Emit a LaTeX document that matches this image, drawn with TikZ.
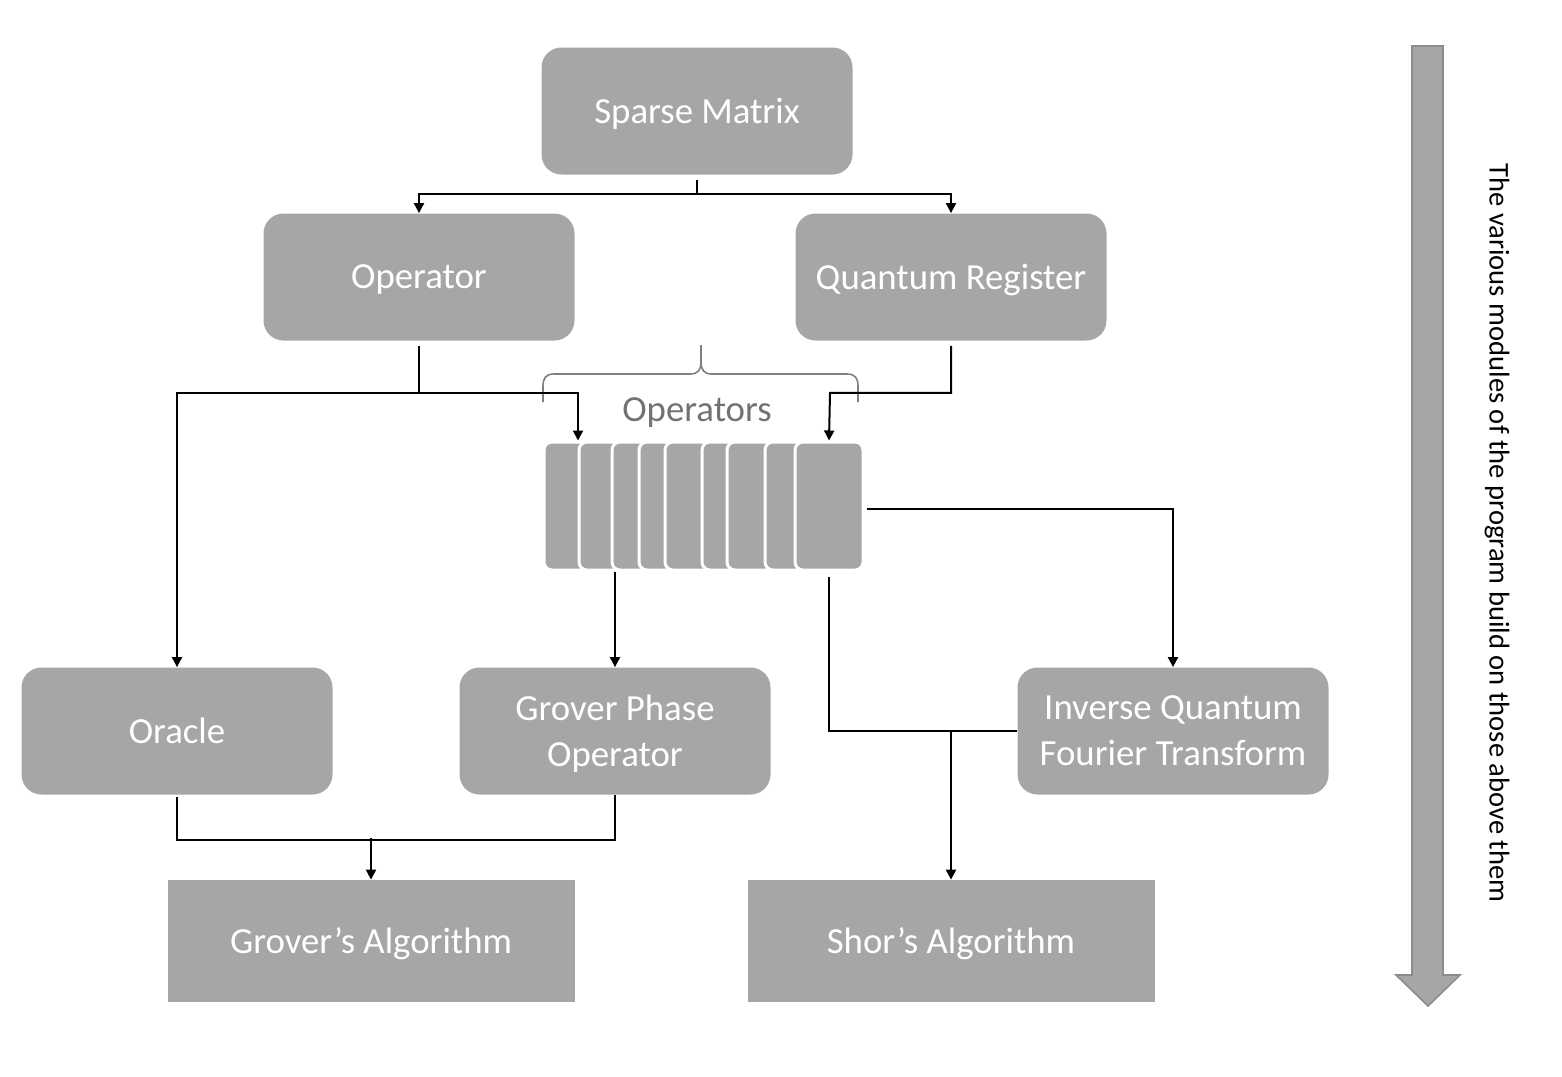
\documentclass[tikz,border=0pt]{standalone}
\usepackage{fontspec}
\setmainfont{Carlito}
\usetikzlibrary{arrows.meta}
\definecolor{boxgray}{HTML}{A6A6A6}
\definecolor{bracegray}{HTML}{7F7F7F}
\definecolor{labgray}{HTML}{767171}
\definecolor{edgegray}{HTML}{8C8C8C}
\tikzset{
  box/.style={fill=boxgray, rounded corners=10pt, minimum width=155.5pt, minimum height=63.5pt,
    inner sep=0pt, text=white, align=center, text depth=0pt, font=\fontsize{18.4}{23}\selectfont},
  sqbox/.style={box, rounded corners=0pt, minimum width=203.5pt, minimum height=61pt},
  card/.style={fill=boxgray, draw=white, line width=1.5pt, rounded corners=4pt,
    minimum width=34pt, minimum height=64pt, inner sep=0pt},
  conn/.style={draw=black, line width=1pt},
  arr/.style={conn, -{Triangle[length=5pt,width=5pt]}},
}
\begin{document}
\begin{tikzpicture}[x=0.5pt,y=-0.5pt]
\useasboundingbox (0,0) rectangle (1562,1076);
% boxes
\node[box] (sm) at (697,111) {Sparse Matrix};
\node[box] (op) at (419,277) {Operator};
\node[box] (qr) at (951,277) {Quantum Register};
\node[box] (or) at (177,731) {Oracle};
\node[box] (gp) at (615,731) {Grover Phase\\Operator};
\node[box] (iq) at (1173,731) {Inverse Quantum\\Fourier Transform};
\node[sqbox] (ga) at (371,941) {Grover’s Algorithm};
\node[sqbox] (sh) at (951,941) {Shor’s Algorithm};
% operator cards
\node[card] (c1) at (578,506) {};
\node[card] (c2) at (613,506) {};
\node[card] (c3) at (646,506) {};
\node[card] (c4) at (673,506) {};
\node[card] (c5) at (699,506) {};
\node[card] (c6) at (736,506) {};
\node[card] (c7) at (761,506) {};
\node[card] (c8) at (799,506) {};
\node[card] (c9) at (829,506) {};
% brace and label
\draw[bracegray, line width=0.8pt] (543,402) -- (543,386) .. controls (543,378) and (546,374) .. (554,374)
  -- (690,374) .. controls (698,374) and (701,370) .. (701,362) -- (701,345)
  (701,362) .. controls (701,370) and (704,374) .. (712,374)
  -- (847,374) .. controls (855,374) and (858,378) .. (858,386) -- (858,402);
\node[text=labgray, text depth=0pt, font=\fontsize{18.4}{22}\selectfont] (lab) at (697,410) {Operators};
% connectors
\draw[conn] (sm.south) ++(0,5) -- ++(0,14) coordinate (smj);
\draw[arr] (smj) -| (op.north);
\draw[arr] (smj) -| (qr.north);
\draw[conn] (op.south) ++(0,5) -- ++(0,47) coordinate (opj);
\draw[arr] (opj) -| (or.north);
\draw[arr] (opj) -| (c1.north);
\draw[arr] (qr.south) ++(0,5) |- ++(-121,47) -- (c9.north);
\draw[arr] (c9.east) ++(2,3) -| (iq.north);
\draw[arr] (c2.south -| gp.north) -- (gp.north);
\draw[conn] (c9.south) ++(0,5) |- (iq.west);
\draw[arr] (sh.north |- iq.west) -- (sh.north);
\draw[conn] (or.south) ++(0,2) |- ++(220,43) -| (gp.south);
\draw[arr] (ga.north) ++(0,-42) -- (ga.north);
% big arrow
\draw[fill=boxgray, draw=edgegray, line width=0.8pt]
  (1412,46) -- (1443,46) -- (1443,975) -- (1460,975) -- (1428,1006) -- (1396,975) -- (1412,975) -- cycle;
\node[rotate=-90, font=\fontsize{14.3}{17}\selectfont] (side) at (1497,533)
  {The various modules of the program build on those above them};
\end{tikzpicture}
\end{document}
